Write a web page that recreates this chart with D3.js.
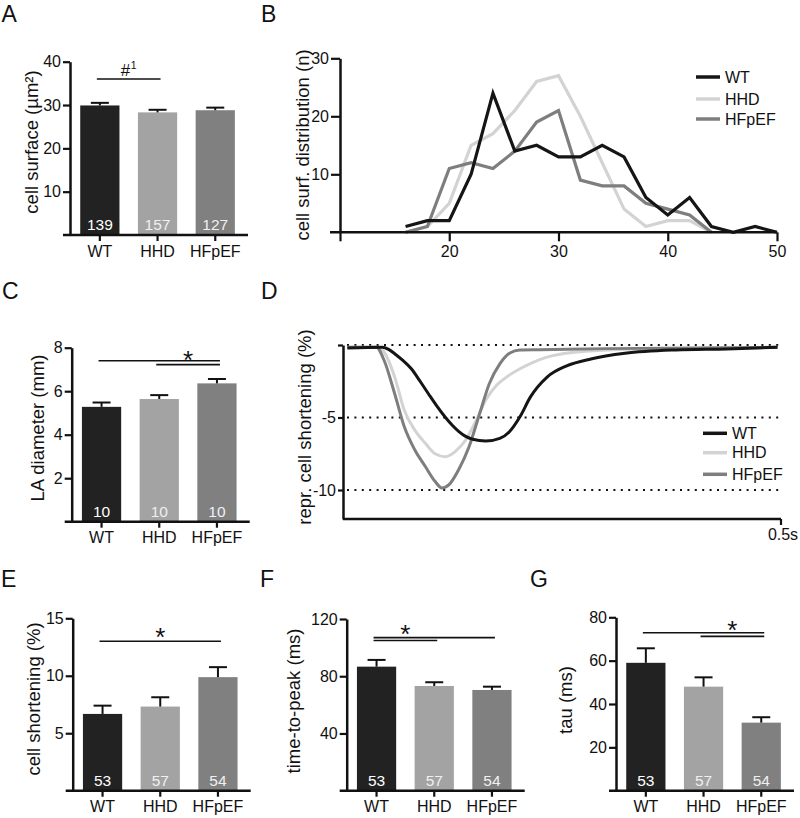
<!DOCTYPE html>
<html><head><meta charset="utf-8">
<script src="https://cdn.jsdelivr.net/npm/d3@7"></script>
<style>body{margin:0;background:#fff}svg{display:block}</style>
</head><body><svg id="c" width="800" height="818"></svg>
<script>
// ---------- data ----------
const groups = ["WT", "HHD", "HFpEF"];
const barColors = ["#222222", "#a3a3a3", "#808080"];
const lineColors = ["#151515", "#d3d3d3", "#7e7e7e"];
const nColors = ["#ffffff", "#f0f0f0", "#f0f0f0"];

// A: cell surface
const surfMean = [29.9, 28.3, 28.8];
const surfSem = [0.6, 0.6, 0.6];
const surfN = ["139", "157", "127"];
const surfTicks = [10, 20, 30, 40];
const surfSig = [[0, 1, 36.0]];

// C: LA diameter
const laMean = [5.28, 5.64, 6.36];
const laSem = [0.2, 0.18, 0.2];
const laN = ["10", "10", "10"];
const laTicks = [2, 4, 6, 8];
const laSig = [[0, 2, 7.4], [1, 2, 7.22]];

// E: cell shortening
const shortMean = [6.68, 7.32, 9.88];
const shortSem = [0.72, 0.81, 0.87];
const cellN = ["53", "57", "54"];
const shortTicks = [5, 10, 15];
const shortSig = [[0, 2, 13.0]];

// F: time-to-peak
const ttpMean = [86.7, 73.2, 70.4];
const ttpSem = [4.7, 2.6, 2.3];
const ttpTicks = [40, 80, 120];
const ttpSig = [[0, 2, 107], [0, 1, 105]];

// G: tau
const tauMean = [59.0, 48.0, 31.4];
const tauSem = [6.7, 4.3, 2.5];
const tauTicks = [20, 40, 60, 80];
const tauSig = [[0, 2, 72.9], [1, 2, 71.2]];

// B: cell surface distribution
const distBinsWT = [16,18,20,22,24,26,28,30,32,34,36,38,40,42,44,46,48,50];
const distWT     = [1, 2, 2, 10,24,14,15,13,13,15,13,6, 3, 6, 1, 0, 1, 0];
const distBinsHHD = [16,18,20,22,24,26,28,30,32,34,36,38,40,42,44];
const distHHD     = [0, 1, 5, 15,17,21,26,27,20,12,4, 1, 2, 2, 0];
const distBinsHF  = [16,18,20,22,24,26,28,30,32,34,36,38,40,42,44];
const distHF      = [0, 1, 11,12,11,14,19,21,9, 8, 8, 5, 4, 3, 0];
const distXTicks = [10, 20, 30, 40, 50];
const distYTicks = [10, 20, 30];

// D: representative cell shortening traces (time s, %)
const trWT_t = [0.005,0.045,0.052,0.059,0.068,0.078,0.088,0.0975,0.107,0.117,0.125,0.132,0.140,0.148,0.163,0.179,0.190,0.202,0.214,0.233,0.256,0.283,0.322,0.380,0.438,0.496];
const trWT_v = [-0.2,-0.15,-0.3,-0.6,-1.05,-1.64,-2.5,-3.36,-4.2,-5.0,-5.55,-5.95,-6.3,-6.5,-6.62,-6.44,-5.98,-4.95,-3.58,-2.21,-1.42,-0.96,-0.57,-0.34,-0.27,-0.16];
const trHHD_t = [0.005,0.039,0.047,0.059,0.070,0.082,0.094,0.105,0.117,0.128,0.140,0.152,0.163,0.175,0.187,0.202,0.217,0.233,0.264,0.303,0.380,0.496];
const trHHD_v = [-0.15,-0.15,-0.5,-2.2,-4.5,-5.87,-6.78,-7.5,-7.7,-7.35,-6.55,-5.2,-3.8,-2.8,-2.2,-1.64,-1.19,-0.84,-0.5,-0.34,-0.23,-0.16];
const trHF_t = [0.005,0.038,0.047,0.059,0.070,0.082,0.094,0.105,0.113,0.121,0.132,0.144,0.156,0.167,0.179,0.190,0.202,0.225,0.300,0.496];
const trHF_v = [-0.15,-0.15,-1.07,-3.36,-5.64,-7.24,-8.38,-9.4,-9.86,-9.63,-8.6,-7.0,-4.73,-2.67,-1.3,-0.57,-0.34,-0.32,-0.25,-0.16];
const trYTicks = [0, -5, -10];
const trYTickLabels = ["", "-5", "-10"];

// ---------- drawing ----------
const FONT = "Arial, 'Liberation Sans', Helvetica, sans-serif";
const svg = d3.select("#c");
svg.append("rect").attr("width", 800).attr("height", 818).attr("fill", "#fff");
const INK = "#111";

function styleAxis(sel, fs) {
  sel.selectAll("text").attr("font-family", FONT).attr("font-size", fs).attr("fill", INK);
  sel.selectAll("line").attr("stroke", INK).attr("stroke-width", 2.2);
  sel.selectAll(".domain").attr("stroke", INK).attr("stroke-width", 2.5);
}

function panelLetter(t, x, y) {
  svg.append("text").attr("x", x).attr("y", y).text(t)
    .attr("font-family", FONT).attr("font-size", 23).attr("fill", INK);
}

function yLabel(t, x, y) {
  svg.append("text").attr("transform", `translate(${x},${y}) rotate(-90)`)
    .attr("text-anchor", "middle").text(t)
    .attr("font-family", FONT).attr("font-size", 18.5).attr("fill", INK);
}

function barPanel(p) {
  const g = svg.append("g");
  const y = d3.scaleLinear().domain([0, p.max]).range([p.y0, p.yTop]);
  const step = 57.7;
  const x = d3.scaleBand().domain(groups)
    .range([p.x0 + 1, p.x0 + 1 + 3 * step]).paddingInner(0.32).paddingOuter(0.16);
  const cx = i => x(groups[i]) + x.bandwidth() / 2;

  g.selectAll("rect.bar").data(p.mean).join("rect")
    .attr("x", (d, i) => x(groups[i])).attr("width", x.bandwidth())
    .attr("y", d => y(d)).attr("height", d => p.y0 - y(d))
    .attr("fill", (d, i) => barColors[i]);

  p.mean.forEach((m, i) => {
    const top = y(m + p.sem[i]);
    g.append("line").attr("x1", cx(i)).attr("x2", cx(i)).attr("y1", y(m)).attr("y2", top)
      .attr("stroke", INK).attr("stroke-width", 2);
    g.append("line").attr("x1", cx(i) - 9).attr("x2", cx(i) + 9).attr("y1", top).attr("y2", top)
      .attr("stroke", INK).attr("stroke-width", 2);
    g.append("text").attr("x", cx(i)).attr("y", p.y0 - 5).attr("text-anchor", "middle")
      .text(p.n[i]).attr("font-family", FONT).attr("font-size", 15.5).attr("fill", nColors[i]);
  });

  const ya = g.append("g").attr("transform", `translate(${p.x0},0)`)
    .call(d3.axisLeft(y).tickValues(p.ticks).tickSize(7).tickPadding(2).tickSizeOuter(0));
  styleAxis(ya, 16);

  const xa = g.append("g").attr("transform", `translate(0,${p.y0})`)
    .call(d3.axisBottom(x).tickSize(6).tickPadding(4).tickSizeOuter(0));
  xa.select(".domain").remove();
  styleAxis(xa, 16);
  xa.selectAll("text").attr("y", 21.5).attr("dy", 0);
  g.append("line").attr("x1", p.x0 - 7).attr("x2", p.x0 + 178).attr("y1", p.y0).attr("y2", p.y0)
    .attr("stroke", INK).attr("stroke-width", 2.5);

  p.sig.forEach(s => {
    g.append("line").attr("x1", cx(s[0]) - 3).attr("x2", cx(s[1]) + 3)
      .attr("y1", y(s[2])).attr("y2", y(s[2])).attr("stroke", INK).attr("stroke-width", 1.6);
  });
  const last = p.sig[p.sig.length - 1];
  const mx = (cx(last[0]) + cx(last[1])) / 2;
  const topLine = d3.min(p.sig, s => y(s[2]));
  if (p.mark === "#") {
    const t = g.append("text").attr("x", mx).attr("y", topLine - 3.5).attr("text-anchor", "middle")
      .attr("font-family", FONT).attr("font-size", 17).attr("fill", INK);
    t.append("tspan").text("#");
    t.append("tspan").text("1").attr("font-size", 10.5).attr("dy", -6.5).attr("dx", 0.5);
  } else {
    g.append("text").attr("x", mx).attr("y", topLine - p.starGap + 14.5).attr("text-anchor", "middle")
      .text("*").attr("font-family", FONT).attr("font-size", 26).attr("fill", INK);
  }
  yLabel(p.ylabel, p.lx, p.ly);
}

barPanel({x0: 70, y0: 235, yTop: 61.7, max: 40, ticks: surfTicks, mean: surfMean, sem: surfSem,
  n: surfN, sig: surfSig, mark: "#", ylabel: "cell surface (µm²)", lx: 38, ly: 142});
barPanel({x0: 71.7, y0: 521.7, yTop: 347.7, max: 8, ticks: laTicks, mean: laMean, sem: laSem,
  n: laN, sig: laSig, mark: "*", starGap: 6, ylabel: "LA diameter (mm)", lx: 44, ly: 428});
barPanel({x0: 72.7, y0: 790.7, yTop: 618.3, max: 15, ticks: shortTicks, mean: shortMean, sem: shortSem,
  n: cellN, sig: shortSig, mark: "*", starGap: 9.5, ylabel: "cell shortening (%)", lx: 40, ly: 699});
barPanel({x0: 346.7, y0: 790.7, yTop: 619, max: 120, ticks: ttpTicks, mean: ttpMean, sem: ttpSem,
  n: cellN, sig: ttpSig, mark: "*", starGap: 9, ylabel: "time-to-peak (ms)", lx: 300, ly: 701});
barPanel({x0: 616, y0: 790.7, yTop: 617.3, max: 80, ticks: tauTicks, mean: tauMean, sem: tauSem,
  n: cellN, sig: tauSig, mark: "*", starGap: 7.7, ylabel: "tau (ms)", lx: 572, ly: 700});

// ---------- B ----------
(function () {
  const g = svg.append("g");
  const x = d3.scaleLinear().domain([10, 50]).range([340, 777]);
  const y = d3.scaleLinear().domain([0, 30]).range([232.3, 58.3]);
  const line = d3.line().x(d => x(d[0])).y(d => y(d[1]));
  const series = [
    [distBinsHHD, distHHD, 1], [distBinsHF, distHF, 2], [distBinsWT, distWT, 0]
  ];
  series.forEach(([bx, v, ci]) => {
    g.append("path").datum(bx.map((b, i) => [b, v[i]])).attr("d", line)
      .attr("fill", "none").attr("stroke", lineColors[ci]).attr("stroke-width", 3.2)
      .attr("stroke-linejoin", "miter");
  });
  const ya = g.append("g").attr("transform", "translate(340,0)")
    .call(d3.axisLeft(y).tickValues(distYTicks).tickSize(9).tickPadding(2).tickSizeOuter(0));
  styleAxis(ya, 16);
  const xa = g.append("g").attr("transform", "translate(0,232.3)")
    .call(d3.axisBottom(x).tickValues(distXTicks).tickSize(9).tickPadding(4).tickSizeOuter(0)
      .tickFormat(d => d === 10 ? "" : d));
  xa.select(".domain").remove();
  styleAxis(xa, 16);
  xa.selectAll("text").attr("y", 24.4).attr("dy", 0);
  g.append("line").attr("x1", 330).attr("x2", 777).attr("y1", 232.3).attr("y2", 232.3)
    .attr("stroke", INK).attr("stroke-width", 2.5);
  const legY = [77, 99, 119];
  groups.forEach((nm, i) => {
    g.append("line").attr("x1", 696).attr("x2", 720).attr("y1", legY[i]).attr("y2", legY[i])
      .attr("stroke", lineColors[i]).attr("stroke-width", 3.5);
    g.append("text").attr("x", 725).attr("y", legY[i]).attr("dy", "0.36em").text(nm)
      .attr("font-family", FONT).attr("font-size", 16).attr("fill", INK);
  });
  yLabel("cell surf. distribution (n)", 309, 145);
})();

// ---------- D ----------
(function () {
  const g = svg.append("g");
  const x = d3.scaleLinear().domain([0, 0.5]).range([343, 781]);
  const y = d3.scaleLinear().domain([-12, 0]).range([519, 345]);
  trYTicks.forEach(v => {
    g.append("line").attr("x1", 347).attr("x2", 781).attr("y1", y(v)).attr("y2", y(v))
      .attr("stroke", INK).attr("stroke-width", 2).attr("stroke-dasharray", "2,5.4");
  });
  const line = d3.line().x(d => x(d[0])).y(d => y(d[1])).curve(d3.curveMonotoneX);
  const traces = [[trHHD_t, trHHD_v, 1], [trHF_t, trHF_v, 2], [trWT_t, trWT_v, 0]];
  traces.forEach(([t, v, ci]) => {
    g.append("path").datum(t.map((tt, i) => [tt, v[i]])).attr("d", line)
      .attr("fill", "none").attr("stroke", lineColors[ci]).attr("stroke-width", 3)
      .attr("stroke-linejoin", "round");
  });
  const ya = g.append("g").attr("transform", "translate(343,0)")
    .call(d3.axisLeft(y).tickValues(trYTicks).tickSize(5).tickPadding(2).tickSizeOuter(0)
      .tickFormat((d, i) => trYTickLabels[i]));
  styleAxis(ya, 16);
  g.append("line").attr("x1", 343).attr("x2", 781).attr("y1", 519).attr("y2", 519)
    .attr("stroke", INK).attr("stroke-width", 2.5);
  g.append("line").attr("x1", 781).attr("x2", 781).attr("y1", 519).attr("y2", 525)
    .attr("stroke", INK).attr("stroke-width", 2.2);
  g.append("text").attr("x", 783).attr("y", 540).attr("text-anchor", "middle").text("0.5s")
    .attr("font-family", FONT).attr("font-size", 16).attr("fill", INK);
  const legY = [433.3, 452.7, 474.3];
  groups.forEach((nm, i) => {
    g.append("line").attr("x1", 703).attr("x2", 727).attr("y1", legY[i]).attr("y2", legY[i])
      .attr("stroke", lineColors[i]).attr("stroke-width", 3.5);
    g.append("text").attr("x", 732).attr("y", legY[i]).attr("dy", "0.36em").text(nm)
      .attr("font-family", FONT).attr("font-size", 16).attr("fill", INK);
  });
  yLabel("repr. cell shortening (%)", 311, 427);
})();

panelLetter("A", 1.5, 22);
panelLetter("B", 261, 22);
panelLetter("C", 2, 299);
panelLetter("D", 261, 299);
panelLetter("E", 1, 587);
panelLetter("F", 260, 587);
panelLetter("G", 530, 587);
</script></body></html>
